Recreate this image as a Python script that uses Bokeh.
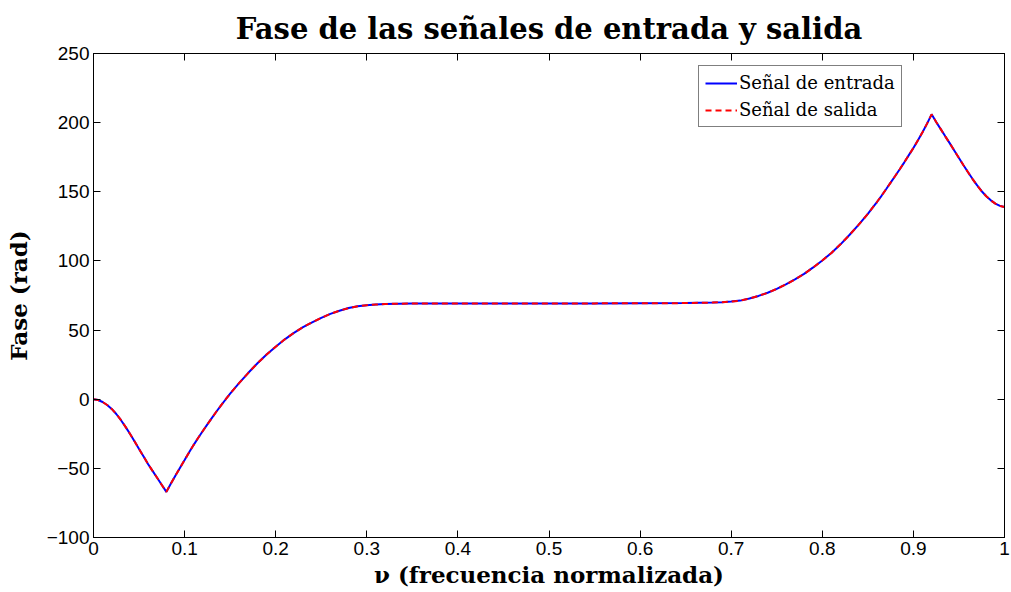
from bokeh.plotting import figure
from bokeh.models import LinearAxis, FixedTicker, CustomJSTickFormatter, Range1d, Legend, LegendItem
from bokeh.embed import file_html
from bokeh.resources import INLINE

nu = [0.0, 0.005, 0.01, 0.015, 0.02, 0.025, 0.03, 0.035, 0.04, 0.045, 0.05, 0.055, 0.06,
      0.065, 0.07, 0.075, 0.08, 0.085, 0.09, 0.095, 0.10, 0.105, 0.11, 0.115, 0.12, 0.125,
      0.13, 0.135, 0.14, 0.145, 0.15, 0.16, 0.17, 0.18, 0.19, 0.20, 0.21, 0.22, 0.23, 0.24,
      0.25, 0.26, 0.27, 0.28, 0.29, 0.30, 0.31, 0.32, 0.335, 0.35, 0.40, 0.45, 0.50, 0.55,
      0.60, 0.65, 0.665, 0.68, 0.69, 0.70, 0.71, 0.72, 0.73, 0.74, 0.75, 0.76, 0.77, 0.78,
      0.79, 0.80, 0.81, 0.82, 0.83, 0.84, 0.85, 0.855, 0.86, 0.865, 0.87, 0.875, 0.88,
      0.885, 0.89, 0.895, 0.90, 0.905, 0.91, 0.915, 0.92, 0.925, 0.93, 0.935, 0.94, 0.945,
      0.95, 0.955, 0.96, 0.965, 0.97, 0.975, 0.98, 0.985, 0.99, 0.995, 1.0]
fase_entrada = [0.0, -0.6, -2.0, -4.2, -7.0, -10.7, -15.0, -19.8, -25.0, -30.4, -36.0,
                -41.5, -47.0, -52.0, -57.0, -62.0, -67.0, -61.0, -55.2, -49.5, -44.0,
                -38.4, -33.0, -27.9, -23.0, -18.2, -13.5, -8.9, -4.5, -0.2, 4.0, 11.8,
                19.1, 26.0, 32.3, 38.0, 43.3, 48.0, 52.1, 55.6, 58.8, 61.7, 64.0, 65.9,
                67.2, 68.0, 68.5, 68.8, 69.1, 69.2, 69.3, 69.3, 69.3, 69.3, 69.4, 69.5,
                69.7, 69.9, 70.2, 70.6, 71.3, 72.8, 74.7, 77.0, 79.8, 83.0, 86.6, 90.6,
                95.3, 100.3, 105.8, 112.0, 118.9, 126.2, 134.0, 138.3, 142.6, 147.1,
                151.8, 156.6, 161.4, 166.3, 171.3, 176.5, 181.7, 187.3, 193.1, 199.3,
                206.0, 200.5, 195.3, 190.1, 185.0, 179.7, 174.4, 169.2, 164.1, 159.2,
                154.6, 150.4, 146.8, 143.8, 141.4, 139.8, 139.0]
fase_salida = [0.0, -0.6, -2.0, -4.2, -7.0, -10.7, -15.0, -19.8, -25.0, -30.4, -36.0,
               -41.5, -47.0, -52.0, -57.0, -62.0, -67.0, -61.0, -55.2, -49.5, -44.0,
               -38.4, -33.0, -27.9, -23.0, -18.2, -13.5, -8.9, -4.5, -0.2, 4.0, 11.8,
               19.1, 26.0, 32.3, 38.0, 43.3, 48.0, 52.1, 55.6, 58.8, 61.7, 64.0, 65.9,
               67.2, 68.0, 68.5, 68.8, 69.1, 69.2, 69.3, 69.3, 69.3, 69.3, 69.4, 69.5,
               69.7, 69.9, 70.2, 70.6, 71.3, 72.8, 74.7, 77.0, 79.8, 83.0, 86.6, 90.6,
               95.3, 100.3, 105.8, 112.0, 118.9, 126.2, 134.0, 138.3, 142.6, 147.1,
               151.8, 156.6, 161.4, 166.3, 171.3, 176.5, 181.7, 187.3, 193.1, 199.3,
               206.0, 200.5, 195.3, 190.1, 185.0, 179.7, 174.4, 169.2, 164.1, 159.2,
               154.6, 150.4, 146.8, 143.8, 141.4, 139.8, 139.0]

x_ticks = [0.0, 0.1, 0.2, 0.3, 0.4, 0.5, 0.6, 0.7, 0.8, 0.9, 1.0]
y_ticks = [-100, -50, 0, 50, 100, 150, 200, 250]

titulo = "Fase de las señales de entrada y salida"
etiqueta_x = "ν (frecuencia normalizada)"
etiqueta_y = "Fase (rad)"
leyenda = ["Señal de entrada", "Señal de salida"]

SERIF = "DejaVu Serif"
SANS = "Liberation Sans"

p = figure(width=1011, height=592, output_backend="svg", toolbar_location=None,
           x_range=Range1d(0, 1), y_range=Range1d(-100, 250),
           min_border_left=93, min_border_right=7, min_border_top=53, min_border_bottom=55,
           x_axis_location=None, y_axis_location=None)
p.grid.visible = False
p.outline_line_color = "black"
p.outline_line_width = 1
p.background_fill_color = "white"
p.border_fill_color = "white"

p.title.text = titulo
p.title.align = "center"
p.title.text_font = SERIF
p.title.text_font_size = "29px"
p.title.text_font_style = "bold"
p.title.text_color = "black"
p.title.standoff = 16

fmt = CustomJSTickFormatter(code="return String(tick).replace('-', '\u2212');")

def make_axis(ticks, show_labels, label=None, standoff=2):
    ax = LinearAxis(ticker=FixedTicker(ticks=ticks), formatter=fmt)
    ax.major_tick_in = 7
    ax.major_tick_out = 0
    ax.minor_tick_line_color = None
    ax.axis_line_color = "black"
    ax.major_tick_line_color = "black"
    ax.major_label_text_font = SANS
    ax.major_label_text_font_size = "19px"
    ax.major_label_text_color = "black"
    ax.major_label_standoff = 4
    if not show_labels:
        ax.major_label_text_color = None
        ax.major_label_text_font_size = "0px"
        ax.major_label_standoff = 0
    if label:
        ax.axis_label = label
        ax.axis_label_text_font = SERIF
        ax.axis_label_text_font_style = "bold"
        ax.axis_label_text_font_size = "23px"
        ax.axis_label_text_color = "black"
        ax.axis_label_standoff = standoff
    return ax

p.add_layout(make_axis(x_ticks, True, etiqueta_x, 3), "below")
p.add_layout(make_axis(y_ticks, True, etiqueta_y, 12), "left")
p.add_layout(make_axis(x_ticks, False), "above")
p.add_layout(make_axis(y_ticks, False), "right")

r1 = p.line(nu, fase_entrada, line_color="#0000ff", line_width=2)
r2 = p.line(nu, fase_salida, line_color="#ff0000", line_width=2, line_dash="6 4")

legend = Legend(items=[LegendItem(label=leyenda[0], renderers=[r1]),
                       LegendItem(label=leyenda[1], renderers=[r2])],
                location=(605, 410))
legend.label_text_font = SERIF
legend.label_text_font_size = "18px"
legend.label_text_color = "black"
legend.border_line_color = "black"
legend.border_line_width = 1
legend.background_fill_color = "white"
legend.background_fill_alpha = 1.0
legend.glyph_width = 32
legend.glyph_height = 20
legend.label_height = 20
legend.label_standoff = 2
legend.spacing = 6
legend.padding = 6
legend.margin = 0
p.add_layout(legend, "center")

open("out.html", "w").write(file_html(p, INLINE))
